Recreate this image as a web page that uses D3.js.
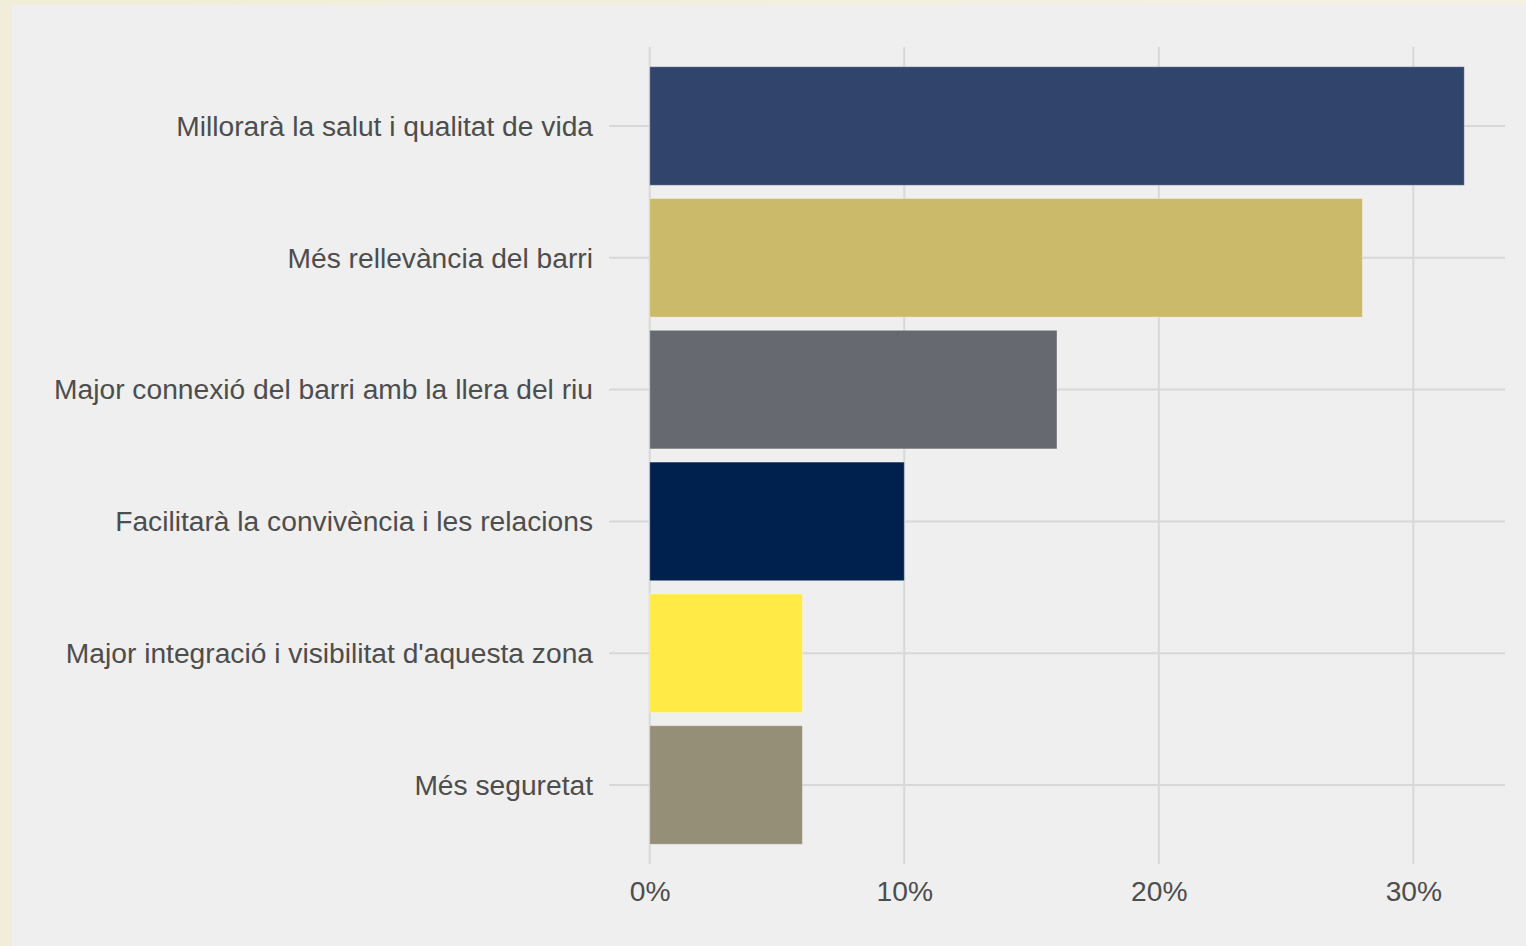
<!DOCTYPE html>
<html>
<head>
<meta charset="utf-8">
<script src="https://cdn.jsdelivr.net/npm/d3@7"></script>
<style>
  html, body { margin: 0; padding: 0; background: #f1eedb; }
  svg { display: block; }
</style>
</head>
<body>
<svg id="chart" width="1526" height="946"></svg>
<script>
const categories = [
  "Millorarà la salut i qualitat de vida",
  "Més rellevància del barri",
  "Major connexió del barri amb la llera del riu",
  "Facilitarà la convivència i les relacions",
  "Major integració i visibilitat d'aquesta zona",
  "Més seguretat"
];
const values = [32, 28, 16, 10, 6, 6];
const colors = ["#31446B", "#CBBA69", "#666970", "#00204D", "#FFEA46", "#958F78"];
const xTicks = [0, 10, 20, 30];
const xTickLabels = ["0%", "10%", "20%", "30%"];

const svg = d3.select("#chart");
const W = 1526, H = 946;

const defs = svg.append("defs");
const grad = defs.append("linearGradient").attr("id", "bg").attr("x1", 0).attr("x2", 1).attr("y1", 0).attr("y2", 0);
grad.append("stop").attr("offset", "0%").attr("stop-color", "#f0edd8");
grad.append("stop").attr("offset", "100%").attr("stop-color", "#f5f2e3");
svg.append("rect").attr("width", W).attr("height", H).attr("fill", "url(#bg)");
svg.append("rect").attr("x", 12).attr("y", 5).attr("width", W - 12).attr("height", H - 5).attr("fill", "#efefef");

const dataMin = 0, dataMax = d3.max(values);
const pad = (dataMax - dataMin) * 0.05;
const x = d3.scaleLinear().domain([dataMin - pad, dataMax + pad]).range([609, 1505]);

const step = 131.8;
const y = d3.scaleBand().domain(categories)
  .range([126 - step / 2, 785 + step / 2])
  .paddingInner(0.1).paddingOuter(0.05);

const gridTop = 47, gridBottom = 864;
const gridColor = "#d8d8d8";

svg.append("g").selectAll("line").data(xTicks).join("line")
  .attr("x1", d => x(d)).attr("x2", d => x(d))
  .attr("y1", gridTop).attr("y2", gridBottom)
  .attr("stroke", gridColor).attr("stroke-width", 2);

svg.append("g").selectAll("line").data(categories).join("line")
  .attr("x1", x.range()[0]).attr("x2", x.range()[1])
  .attr("y1", d => y(d) + y.bandwidth() / 2).attr("y2", d => y(d) + y.bandwidth() / 2)
  .attr("stroke", gridColor).attr("stroke-width", 2);

svg.append("g").selectAll("rect").data(categories).join("rect")
  .attr("x", x(0))
  .attr("y", d => y(d))
  .attr("width", (d, i) => x(values[i]) - x(0))
  .attr("height", y.bandwidth())
  .attr("fill", (d, i) => colors[i])
  .attr("stroke", "rgba(255,255,255,0.35)")
  .attr("stroke-width", 1);

const font = "'Liberation Sans', Arial, sans-serif";
const yAxis = d3.axisLeft(y).tickSize(0).tickPadding(0);
const gy = svg.append("g").attr("transform", `translate(593,0)`).call(yAxis);
gy.select(".domain").remove();
gy.selectAll("text")
  .attr("font-family", font).attr("font-size", 28.2)
  .attr("fill", "#4d4d4d").attr("dy", "0.35em");

const xAxis = d3.axisBottom(x).tickValues(xTicks).tickFormat((d, i) => xTickLabels[i]).tickSize(0).tickPadding(0);
const gx = svg.append("g").attr("transform", `translate(0,881)`).call(xAxis);
gx.select(".domain").remove();
gx.selectAll("text")
  .attr("font-family", font).attr("font-size", 28.2)
  .attr("fill", "#4d4d4d").attr("dy", "0.72em");
</script>
</body>
</html>
